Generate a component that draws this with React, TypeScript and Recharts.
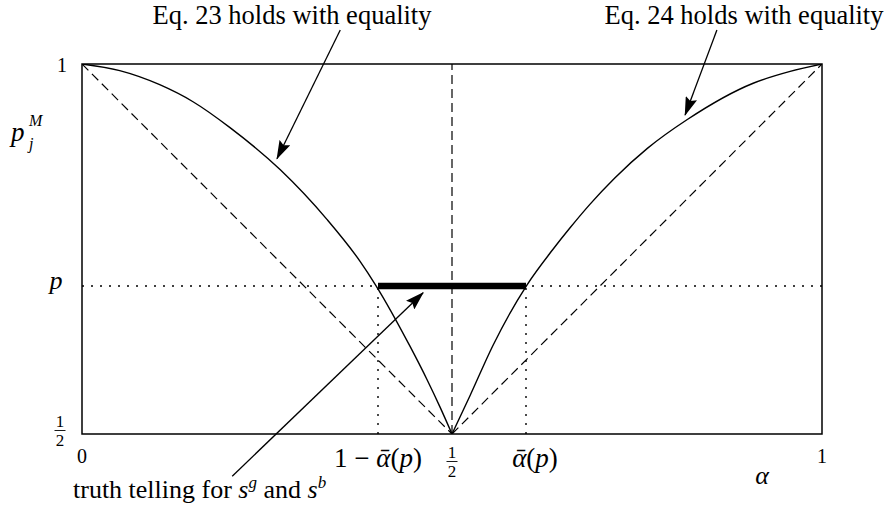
import React from 'react';
import { LineChart, Line, XAxis, YAxis, ReferenceLine, ReferenceArea } from 'recharts';

// Curve "Eq. 23 holds with equality" (left)
const leftAlpha = [0, 0.051, 0.105, 0.15, 0.2, 0.268, 0.331, 0.376, 0.397, 0.443, 0.466, 0.484, 0.5];
const leftP = [1, 0.991, 0.972, 0.949, 0.914, 0.857, 0.79, 0.733, 0.701, 0.619, 0.574, 0.536, 0.5];
// Curve "Eq. 24 holds with equality" (right)
const rightAlpha = [0.5, 0.524, 0.555, 0.601, 0.636, 0.659, 0.686, 0.72, 0.764, 0.818, 0.907, 0.957, 1];
const rightP = [0.5, 0.551, 0.619, 0.701, 0.749, 0.778, 0.81, 0.846, 0.886, 0.925, 0.974, 0.99, 1];
// Dashed diagonals
const diagLeftAlpha = [0, 0.5];
const diagLeftP = [1, 0.5];
const diagRightAlpha = [0.5, 1];
const diagRightP = [0.5, 1];
// Key values
const pValue = 0.7;
const alphaBar = 0.6;
const xTicks = [0, 0.4, 0.5, 0.6, 1];
const yTicks = [0.5, 0.7, 1];
// Annotation arrows [fromAlpha, fromP, toAlpha, toP]
const arrow23 = [0.349, 1.046, 0.2635, 0.872];
const arrow24 = [0.858, 1.046, 0.815, 0.931];
const arrowTruth = [0.203, 0.443, 0.461, 0.691];

const toRows = (a: number[], p: number[]) => a.map((v, i) => ({ a: v, p: p[i] }));

const FONT = '"Liberation Serif", "DejaVu Serif", serif';

const Frac = ({ x, y, size }: { x: number; y: number; size: number }) => (
  <g>
    <text x={x} y={y} textAnchor="middle" fontFamily={FONT} fontSize={size} fill="#000">1</text>
    <line x1={x - 5.5} x2={x + 5.5} y1={y + 3.5} y2={y + 3.5} stroke="#000" strokeWidth={0.9} />
    <text x={x} y={y + 19} textAnchor="middle" fontFamily={FONT} fontSize={size} fill="#000">2</text>
  </g>
);

const AlphaBar = () => (
  <>
    <tspan fontStyle="italic">{'α\u0304'}</tspan>
    <tspan>(</tspan>
    <tspan fontStyle="italic">p</tspan>
    <tspan>)</tspan>
  </>
);

const XTick = (props: any) => {
  const { x, y, payload } = props;
  const v = payload.value;
  if (v === 0.5) return <Frac x={x} y={y + 24} size={17} />;
  if (v === 0 || v === 1)
    return (
      <text x={x} y={y + 29} textAnchor="middle" fontFamily={FONT} fontSize={20} fill="#000">
        {String(v)}
      </text>
    );
  if (v < 0.5)
    return (
      <text x={x} y={y + 33} textAnchor="middle" fontFamily={FONT} fontSize={27} fill="#000">
        <tspan>1 − </tspan>
        <AlphaBar />
      </text>
    );
  return (
    <text x={x + 9} y={y + 33} textAnchor="middle" fontFamily={FONT} fontSize={27} fill="#000">
      <AlphaBar />
    </text>
  );
};

const YTick = (props: any) => {
  const { x, y, payload } = props;
  const v = payload.value;
  if (v === 0.5) return <Frac x={x - 22} y={y - 7} size={17} />;
  if (v === 1)
    return (
      <text x={x - 20} y={y + 8} textAnchor="middle" fontFamily={FONT} fontSize={20} fill="#000">1</text>
    );
  return (
    <text x={x - 26} y={y + 3} textAnchor="middle" fontFamily={FONT} fontSize={26} fontStyle="italic" fill="#000">p</text>
  );
};

const arrowShape = (props: any) => (
  <line x1={props.x1} y1={props.y1} x2={props.x2} y2={props.y2} stroke="#000" strokeWidth={1.3} markerEnd="url(#arrowHead)" />
);

const seg = (arr: number[]) => [
  { x: arr[0], y: arr[1] },
  { x: arr[2], y: arr[3] },
];

export default function App() {
  return (
    <div style={{ position: 'absolute', left: 0, top: 0, width: 893, height: 508, background: '#fff' }}>
      <svg width={0} height={0} style={{ position: 'absolute' }}>
        <defs>
          <marker id="arrowHead" markerUnits="userSpaceOnUse" markerWidth={19} markerHeight={12} refX={18} refY={6} orient="auto">
            <path d="M0,0 L19,6 L0,12 L3,6 z" fill="#000" />
          </marker>
        </defs>
      </svg>
      <LineChart width={893} height={508} margin={{ top: 64, right: 71, bottom: 34, left: 22 }}>
        <XAxis
          type="number"
          dataKey="a"
          domain={[0, 1]}
          allowDataOverflow
          ticks={xTicks}
          interval={0}
          height={40}
          axisLine={false}
          tickLine={false}
          tickSize={0}
          tickMargin={0}
          tick={<XTick />}
        />
        <YAxis
          type="number"
          dataKey="p"
          domain={[0.5, 1]}
          allowDataOverflow
          ticks={yTicks}
          interval={0}
          width={60}
          axisLine={false}
          tickLine={false}
          tickSize={0}
          tickMargin={0}
          tick={<YTick />}
        />
        <ReferenceArea x1={0} x2={1} y1={0.5} y2={1} fill="none" stroke="#000" strokeWidth={1.5} />
        <ReferenceLine x={0.5} stroke="#000" strokeWidth={1.2} strokeDasharray="9 5" />
        <ReferenceLine y={pValue} stroke="#000" strokeWidth={1.4} strokeDasharray="2 7" />
        <ReferenceLine
          segment={[{ x: 1 - alphaBar, y: 0.5 }, { x: 1 - alphaBar, y: pValue }]}
          stroke="#000"
          strokeWidth={1.4}
          strokeDasharray="2 7"
        />
        <ReferenceLine
          segment={[{ x: alphaBar, y: 0.5 }, { x: alphaBar, y: pValue }]}
          stroke="#000"
          strokeWidth={1.4}
          strokeDasharray="2 7"
        />
        <Line data={toRows(diagLeftAlpha, diagLeftP)} dataKey="p" type="linear" stroke="#000" strokeWidth={1.2} strokeDasharray="9 5" dot={false} isAnimationActive={false} />
        <Line data={toRows(diagRightAlpha, diagRightP)} dataKey="p" type="linear" stroke="#000" strokeWidth={1.2} strokeDasharray="9 5" dot={false} isAnimationActive={false} />
        <Line data={toRows(leftAlpha, leftP)} dataKey="p" type="monotone" stroke="#000" strokeWidth={1.4} dot={false} isAnimationActive={false} />
        <Line data={toRows(rightAlpha, rightP)} dataKey="p" type="monotone" stroke="#000" strokeWidth={1.4} dot={false} isAnimationActive={false} />
        <ReferenceLine
          segment={[{ x: 1 - alphaBar, y: pValue }, { x: alphaBar, y: pValue }]}
          stroke="#000"
          strokeWidth={6.5}
        />
        <ReferenceLine segment={seg(arrow23)} ifOverflow="visible" shape={arrowShape} />
        <ReferenceLine segment={seg(arrow24)} ifOverflow="visible" shape={arrowShape} />
        <ReferenceLine segment={seg(arrowTruth)} ifOverflow="visible" shape={arrowShape} />
      </LineChart>
      <svg width={893} height={508} style={{ position: 'absolute', left: 0, top: 0, pointerEvents: 'none' }}>
        <text x={292} y={24} textAnchor="middle" fontFamily={FONT} fontSize={26.5} fill="#000">Eq. 23 holds with equality</text>
        <text x={744} y={24} textAnchor="middle" fontFamily={FONT} fontSize={26.5} fill="#000">Eq. 24 holds with equality</text>
        <text x={11} y={141} fontFamily={FONT} fontSize={27} fontStyle="italic" fill="#000">p</text>
        <text x={29} y={149} fontFamily={FONT} fontSize={16} fontStyle="italic" fill="#000">j</text>
        <text x={29} y={126} fontFamily={FONT} fontSize={16} fontStyle="italic" fill="#000">M</text>
        <text x={762} y={484} textAnchor="middle" fontFamily={FONT} fontSize={26} fontStyle="italic" fill="#000">α</text>
        <text x={73} y={498} fontFamily={FONT} fontSize={26} fill="#000">
          <tspan>truth telling for </tspan>
          <tspan fontStyle="italic">s</tspan>
          <tspan fontStyle="italic" fontSize={17} dy={-10}>g</tspan>
          <tspan dy={10}> and </tspan>
          <tspan fontStyle="italic">s</tspan>
          <tspan fontStyle="italic" fontSize={17} dy={-10}>b</tspan>
        </text>
      </svg>
    </div>
  );
}
